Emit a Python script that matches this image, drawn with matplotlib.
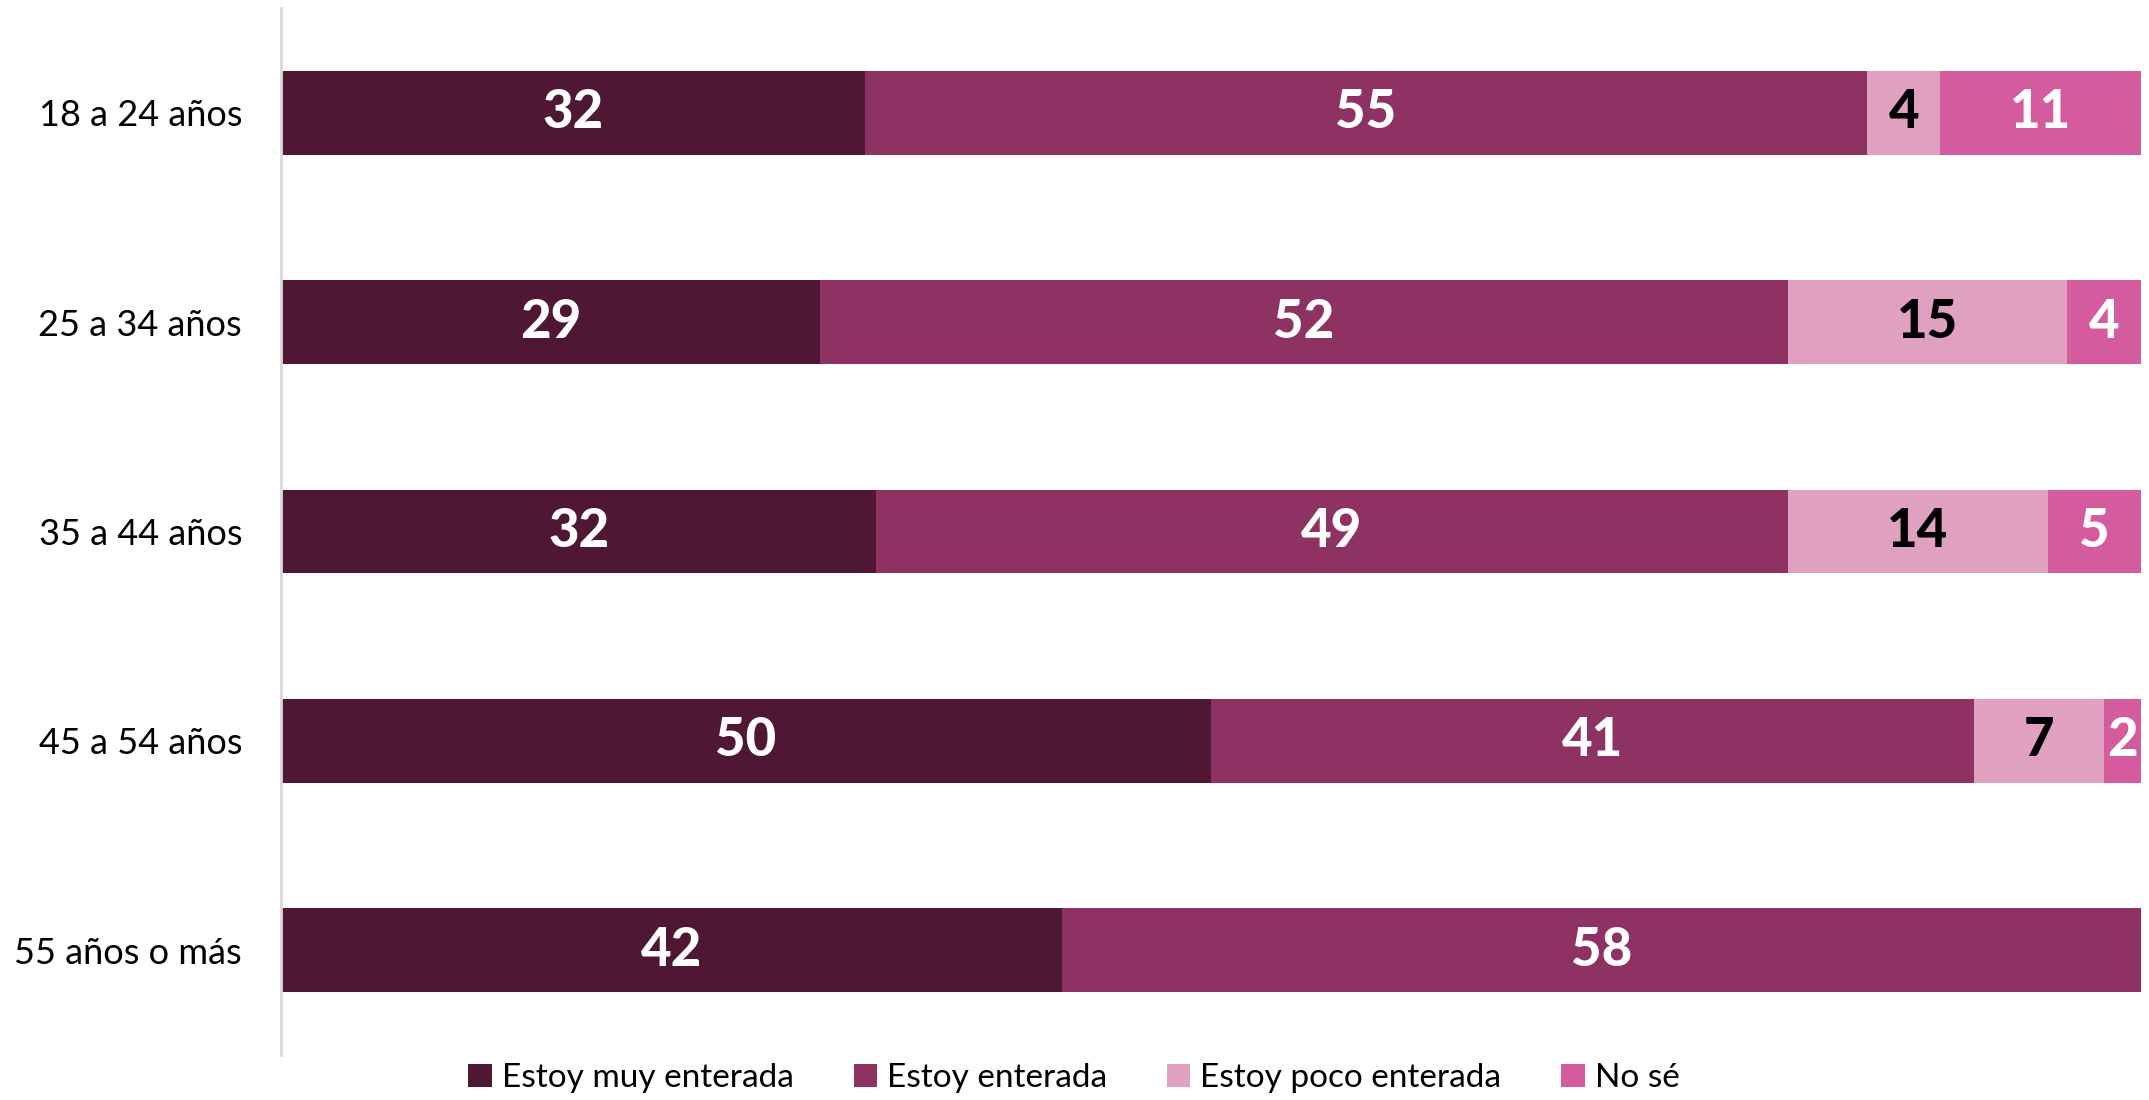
import numpy as np
import matplotlib.pyplot as plt

# datos
categorias = ["18 a 24 años", "25 a 34 años", "35 a 44 años", "45 a 54 años", "55 años o más"]
series = ["Estoy muy enterada", "Estoy enterada", "Estoy poco enterada", "No sé"]
muy_enterada = [32, 29, 32, 50, 42]
enterada = [55, 52, 49, 41, 58]
poco_enterada = [4, 15, 14, 7, 0]
no_se = [11, 4, 5, 2, 0]

colores = ["#4F1734", "#8D3262", "#E0A0C0", "#D45B9E"]
color_texto = ["white", "white", "black", "white"]

plt.rcParams['font.family'] = ['Lato', 'DejaVu Sans']

valores = np.array([muy_enterada, enterada, poco_enterada, no_se], dtype=float)
totales = valores.sum(axis=0)
pct = valores / totales * 100

fig = plt.figure(figsize=(21.49, 11), dpi=100)
ax = fig.add_axes([281 / 2149, 45 / 1100, (2141 - 281) / 2149, (1092 - 45) / 1100])

y = np.arange(len(categorias))
izquierda = np.zeros(len(categorias))
for i, nombre in enumerate(series):
    barras = ax.barh(y, pct[i], left=izquierda, height=0.4, color=colores[i],
                     label=nombre, edgecolor='none')
    for j, b in enumerate(barras):
        if valores[i, j] > 0:
            ax.text(izquierda[j] + pct[i, j] / 2, y[j], f"{int(valores[i, j])}",
                    ha='center', va='center', color=color_texto[i],
                    fontsize=38, fontweight='black')
    izquierda += pct[i]

ax.set_xlim(0, 100)
ax.set_ylim(len(categorias) - 0.5, -0.5)
ax.set_yticks(y)
ax.set_yticklabels(categorias, fontsize=26)
ax.tick_params(axis='y', length=0, pad=28)
ax.set_xticks([])
for s in ['top', 'right', 'bottom']:
    ax.spines[s].set_visible(False)
ax.spines['left'].set_color('#D9D9D9')
ax.spines['left'].set_linewidth(2)

fig.legend(loc='center', bbox_to_anchor=(1074 / 2149, 1 - 1078 / 1100), ncol=4,
           frameon=False, fontsize=24, handlelength=0.7, handleheight=0.7,
           handletextpad=0.3, columnspacing=1.8)

fig.savefig("out.png", dpi=100)
